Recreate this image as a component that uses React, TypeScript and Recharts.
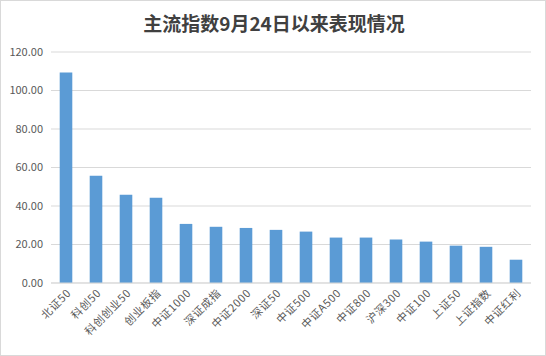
import React from 'react';
import { BarChart, Bar, XAxis, YAxis, CartesianGrid } from 'recharts';

const categories = ['北证50', '科创50', '科创创业50', '创业板指', '中证1000', '深证成指', '中证2000', '深证50', '中证500', '中证A500', '中证800', '沪深300', '中证100', '上证50', '上证指数', '中证红利'];
const returns = [109.4, 55.7, 45.8, 44.3, 30.7, 29.2, 28.6, 27.6, 26.7, 23.6, 23.6, 22.6, 21.5, 19.4, 18.8, 12.1];
const yTicks = [0, 20, 40, 60, 80, 100, 120];
const title = '主流指数9月24日以来表现情况';

const data = categories.map((name, i) => ({ name, value: returns[i] }));

const FONT = '"Noto Sans CJK SC", "Microsoft YaHei", sans-serif';

const XTick = (props: any) => {
  const { x, y, payload } = props;
  return (
    <g transform={`translate(${x + 3},${y})`}>
      <text
        x={0}
        y={0}
        dy="0.35em"
        textAnchor="end"
        transform="rotate(-45)"
        fontSize={11}
        letterSpacing={0.6}
        fill="#595959"
        fontFamily={FONT}
      >
        {payload.value}
      </text>
    </g>
  );
};

export default function App() {
  return (
    <div
      style={{
        position: 'absolute',
        left: 0,
        top: 0,
        width: 546,
        height: 356,
        background: '#fff',
        border: '1px solid #d9d9d9',
        boxSizing: 'border-box',
        overflow: 'hidden',
      }}
    >
      <div
        style={{
          position: 'absolute',
          left: 0,
          top: 9,
          width: 546,
          textAlign: 'center',
          fontFamily: FONT,
          fontWeight: 700,
          fontSize: 19,
          color: '#404040',
          lineHeight: '26px',
        }}
      >
        {title}
      </div>
      <div style={{ position: 'absolute', left: -1, top: -1 }}>
        <BarChart
          width={546}
          height={356}
          data={data}
          margin={{ top: 52, right: 15, bottom: 13, left: 0 }}
          barCategoryGap="71%"
        >
          <CartesianGrid vertical={false} stroke="#d9d9d9" />
          <XAxis
            dataKey="name"
            interval={0}
            tick={<XTick />}
            tickLine={false}
            axisLine={{ stroke: '#d9d9d9' }}
            height={60}
          />
          <YAxis
            domain={[0, 120]}
            ticks={yTicks}
            tickFormatter={(v: number) => v.toFixed(2)}
            axisLine={false}
            tickLine={false}
            width={51}
            tick={{ fontSize: 11, fill: '#595959', fontFamily: FONT }}
          />
          <Bar dataKey="value" fill="#5b9bd5" isAnimationActive={false} />
        </BarChart>
      </div>
    </div>
  );
}
